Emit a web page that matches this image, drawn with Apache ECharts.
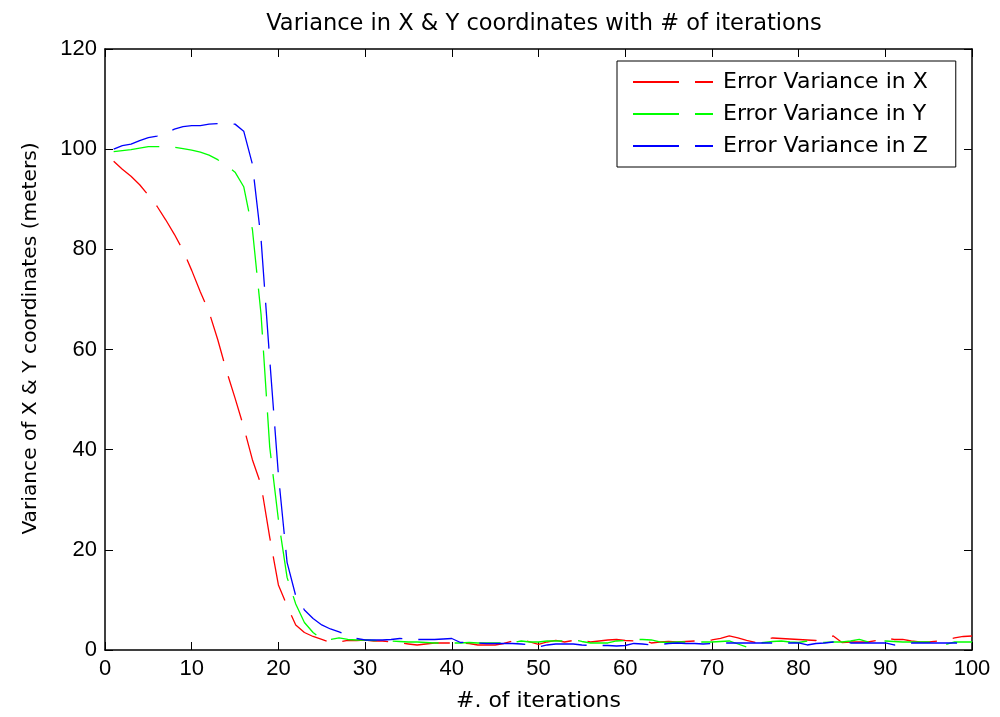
<!DOCTYPE html>
<html>
<head>
<meta charset="utf-8">
<script src="https://cdn.jsdelivr.net/npm/echarts@6/dist/echarts.min.js"></script>
<style>
html,body{margin:0;padding:0;background:#fff;}
#chart{width:1000px;height:717px;}
</style>
</head>
<body>
<div id="chart"></div>
<script>
const titleText = 'Variance in X & Y coordinates with # of iterations';
const xName = '#. of iterations';
const yName = 'Variance of X & Y coordinates (meters)';
const seriesNames = ['Error Variance in X', 'Error Variance in Y', 'Error Variance in Z'];

const iterations = [];
for (let i = 1; i <= 100; i++) iterations.push(i);

const errX = [97.6,96.0,94.6,92.9,90.8,88.6,85.9,83.0,79.8,75.8,
71.5,67.5,62.0,55.8,50.3,44.5,38.0,33.0,22.5,13.0,
8.8,5.0,3.5,2.7,2.1,1.5,1.6,1.9,1.9,2.0,
1.8,1.8,1.6,1.4,1.2,1.0,1.2,1.4,1.4,1.4,
1.4,1.3,1.0,1.0,1.0,1.3,1.8,2.1,1.6,1.1,
1.6,1.9,1.6,1.9,1.9,1.6,1.8,2.0,2.1,1.9,
1.8,2.0,1.4,1.6,1.7,1.6,1.7,1.8,1.9,2.0,
2.3,2.8,2.4,1.9,1.5,2.1,2.4,2.3,2.2,2.1,
2.0,1.9,2.4,2.8,1.5,1.6,1.6,1.6,1.9,2.4,
2.1,2.1,1.8,1.6,1.6,1.8,2.1,2.4,2.7,2.8];

const errY = [99.5,99.7,99.9,100.2,100.5,100.5,100.5,100.4,100.1,99.8,
99.4,98.8,97.9,96.8,95.4,92.5,84.0,67.0,40.5,26.0,
14.5,9.2,5.5,3.5,2.2,2.1,2.4,2.1,2.0,2.0,
1.9,1.8,1.8,1.7,1.6,1.6,1.5,1.4,1.4,1.4,
1.4,1.5,1.4,1.4,1.4,1.4,1.5,1.8,1.6,1.6,
1.8,1.8,1.8,2.1,1.7,1.4,1.4,1.4,1.8,1.9,
2.1,2.1,2.0,1.6,1.5,1.6,1.6,1.6,1.6,1.6,
1.7,1.8,1.2,0.6,1.3,1.5,1.7,1.8,1.6,1.5,
1.8,1.7,1.5,1.6,1.6,1.8,2.1,1.6,1.5,1.8,
1.7,1.6,1.6,1.6,1.6,1.3,1.1,1.6,1.6,1.6];

const errZ = [100.0,100.7,101.0,101.7,102.3,102.6,103.2,104.0,104.5,104.7,
104.7,105.0,105.1,105.1,105.0,103.6,97.0,82.0,58.0,35.0,
17.5,10.8,8.0,6.3,5.0,4.2,3.6,2.9,2.3,2.0,
2.0,2.0,2.1,2.3,2.2,2.1,2.1,2.1,2.2,2.3,
1.5,1.6,1.4,1.3,1.3,1.3,1.3,1.2,1.0,0.6,
1.0,1.2,1.2,1.2,1.0,0.9,0.9,0.9,0.8,0.9,
1.3,1.2,1.0,1.1,1.3,1.4,1.3,1.3,1.2,1.3,
1.4,1.4,1.4,1.4,1.4,1.4,1.4,1.4,1.4,1.4,
1.0,1.3,1.4,1.6,1.8,1.4,1.4,1.4,1.4,1.4,
1.0,1.3,1.4,1.4,1.4,1.4,1.4,1.4,1.4,1.4];

const xTicks = [0,10,20,30,40,50,60,70,80,90,100];
const yTicks = [0,20,40,60,80,100,120];

const colors = ['#ff0000', '#00ff00', '#0000ff'];
const values = [errX, errY, errZ];

const tickFont = 'Liberation Sans, Arial, sans-serif';
const nameFont = 'DejaVu Sans, sans-serif';

const chart = echarts.init(document.getElementById('chart'), null, {renderer: 'canvas'});

function axisCommon(showLabel) {
  return {
    axisLine: {show: true, onZero: false, lineStyle: {color: '#000', width: 1.5}},
    axisTick: {show: true, inside: true, length: 8, lineStyle: {color: '#000', width: 1}},
    splitLine: {show: false},
    axisLabel: {show: showLabel, color: '#000', fontSize: 22, fontFamily: tickFont}
  };
}

const option = {
  backgroundColor: '#fff',
  animation: false,
  title: {
    text: titleText,
    left: 539,
    textAlign: 'center',
    top: 8,
    textStyle: {fontSize: 22.5, fontWeight: 'normal', color: '#000', fontFamily: nameFont}
  },
  grid: {left: 105, right: 28, top: 49, bottom: 63, containLabel: false},
  legend: {
    orient: 'vertical',
    left: 617,
    top: 61,
    data: seriesNames,
    itemWidth: 80,
    itemHeight: 10,
    itemGap: 10,
    padding: [10, 28, 10, 15],
    borderColor: '#000',
    borderWidth: 1,
    backgroundColor: '#fff',
    itemStyle: {opacity: 0, borderWidth: 0},
    textStyle: {fontSize: 22, color: '#000', fontFamily: nameFont, lineHeight: 22, padding: [0,0,0,5]}
  },
  xAxis: [
    Object.assign(axisCommon(true), {
      type: 'value', min: 0, max: 100, interval: 10, position: 'bottom',
      name: xName, nameLocation: 'middle', nameGap: 40,
      nameTextStyle: {fontSize: 22, color: '#000', fontFamily: nameFont}
    }),
    Object.assign(axisCommon(false), {
      type: 'value', min: 0, max: 100, interval: 10, position: 'top'
    })
  ],
  yAxis: [
    Object.assign(axisCommon(true), {
      type: 'value', min: 0, max: 120, interval: 20, position: 'left',
      name: yName, nameLocation: 'middle', nameGap: 64,
      nameTextStyle: {fontSize: 20.2, color: '#000', fontFamily: nameFont, padding: [0, 0, 0, 22]}
    }),
    Object.assign(axisCommon(false), {
      type: 'value', min: 0, max: 120, interval: 20, position: 'right'
    })
  ],
  series: seriesNames.map((n, k) => ({
    name: n,
    type: 'line',
    xAxisIndex: 0,
    yAxisIndex: 0,
    symbol: 'none',
    showSymbol: false,
    color: colors[k],
    lineStyle: {color: colors[k], width: 1.3, type: [46, 16]},
    data: iterations.map((x, i) => [x, values[k][i]]),
    z: 2 + k
  }))
};
chart.setOption(option);
</script>
</body>
</html>
